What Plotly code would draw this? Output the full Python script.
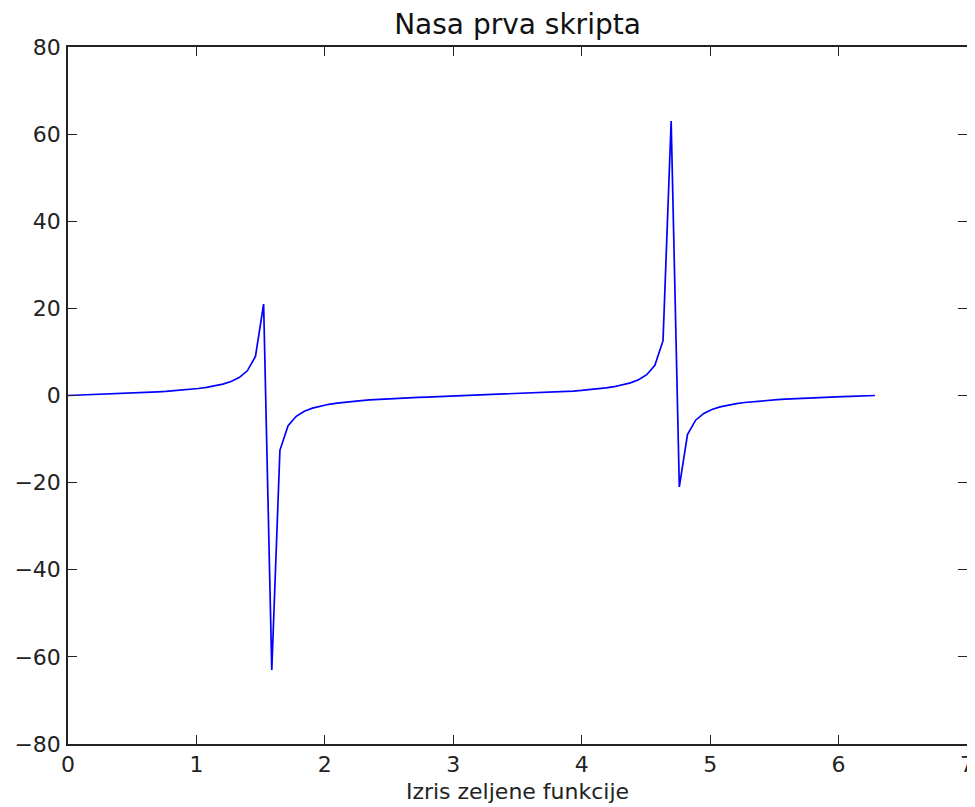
import plotly.graph_objects as go

x_values = [0.0, 0.0635, 0.1269, 0.1904, 0.2539, 0.3173, 0.3808, 0.4443, 0.5077, 0.5712,
            0.6347, 0.6981, 0.7616, 0.8251, 0.8885, 0.9520, 1.0155, 1.0789, 1.1424, 1.2059,
            1.2693, 1.3328, 1.3963, 1.4597, 1.5232, 1.5867, 1.6501, 1.7136, 1.7771, 1.8405,
            1.9040, 1.9675, 2.0309, 2.0944, 2.1579, 2.2213, 2.2848, 2.3483, 2.4117, 2.4752,
            2.5387, 2.6021, 2.6656, 2.7291, 2.7925, 2.8560, 2.9195, 2.9829, 3.0464, 3.1099,
            3.1733, 3.2368, 3.3003, 3.3637, 3.4272, 3.4907, 3.5541, 3.6176, 3.6811, 3.7445,
            3.8080, 3.8715, 3.9349, 3.9984, 4.0619, 4.1253, 4.1888, 4.2523, 4.3157, 4.3792,
            4.4427, 4.5061, 4.5696, 4.6331, 4.6965, 4.7600, 4.8235, 4.8869, 4.9504, 5.0139,
            5.0773, 5.1408, 5.2043, 5.2677, 5.3312, 5.3947, 5.4581, 5.5216, 5.5851, 5.6485,
            5.7120, 5.7755, 5.8389, 5.9024, 5.9659, 6.0293, 6.0928, 6.1563, 6.2197, 6.2832]

y_values = [0.0, 0.0635, 0.1276, 0.1927, 0.2595, 0.3284, 0.4004, 0.4761, 0.5566, 0.6427,
            0.7362, 0.8391, 0.9534, 1.0826, 1.2309, 1.4042, 1.611, 1.866, 2.189, 2.6175,
            3.216, 4.122, 5.671, 8.968, 20.99, -63.01, -12.58, -6.954, -4.779, -3.617,
            -2.889, -2.387, -2.018, -1.7321, -1.5029, -1.3138, -1.1541, -1.016, -0.8946, -0.7864,
            -0.6885, -0.5987, -0.5155, -0.4376, -0.364, -0.2936, -0.2258, -0.16, -0.0955, -0.0317,
            0.0317, 0.0955, 0.16, 0.2258, 0.2936, 0.364, 0.4376, 0.5155, 0.5987, 0.6885,
            0.7864, 0.8946, 1.016, 1.1541, 1.3138, 1.5029, 1.7321, 2.018, 2.387, 2.889,
            3.617, 4.779, 6.954, 12.58, 63.01, -20.99, -8.968, -5.671, -4.122, -3.216,
            -2.6175, -2.189, -1.866, -1.611, -1.4042, -1.2309, -1.0826, -0.9534, -0.8391, -0.7362,
            -0.6427, -0.5566, -0.4761, -0.4004, -0.3284, -0.2595, -0.1927, -0.1276, -0.0635, 0.0]

x_ticks = [0, 1, 2, 3, 4, 5, 6, 7]
y_ticks = [-80, -60, -40, -20, 0, 20, 40, 60, 80]

title_text = "Nasa prva skripta"
xlabel_text = "Izris zeljene funkcije"

fig = go.Figure()
fig.add_trace(go.Scatter(x=x_values, y=y_values, mode="lines",
                         line=dict(color="#0000ff", width=1.7),
                         showlegend=False, hoverinfo="skip"))

axis_common = dict(showline=True, linecolor="#222222", linewidth=1.5, mirror="ticks",
                   ticks="inside", ticklen=9, tickwidth=1, tickcolor="#222222",
                   showgrid=False, zeroline=False, automargin=False,
                   tickfont=dict(family="DejaVu Sans", size=22, color="#222222"))

# the page body adds an 8px offset; margins compensate for it
fig.update_layout(
    width=975, height=807,
    margin=dict(l=60, r=16, t=39, b=71),
    paper_bgcolor="white", plot_bgcolor="white",
    title=dict(text=title_text, x=(68 + 967) / 2 / 975 - 8 / 975, xanchor="center",
               xref="container", yref="container", y=1 - 26 / 807, yanchor="bottom",
               font=dict(family="DejaVu Sans", size=28, color="#111111")),
    xaxis=dict(range=[0, 7], tickvals=x_ticks, **axis_common,
               title=dict(text=xlabel_text, standoff=7,
                          font=dict(family="DejaVu Sans", size=22, color="#222222"))),
    yaxis=dict(range=[-80, 80], tickvals=y_ticks, ticklabelstandoff=1, **axis_common),
)

fig.write_html("out.html")
